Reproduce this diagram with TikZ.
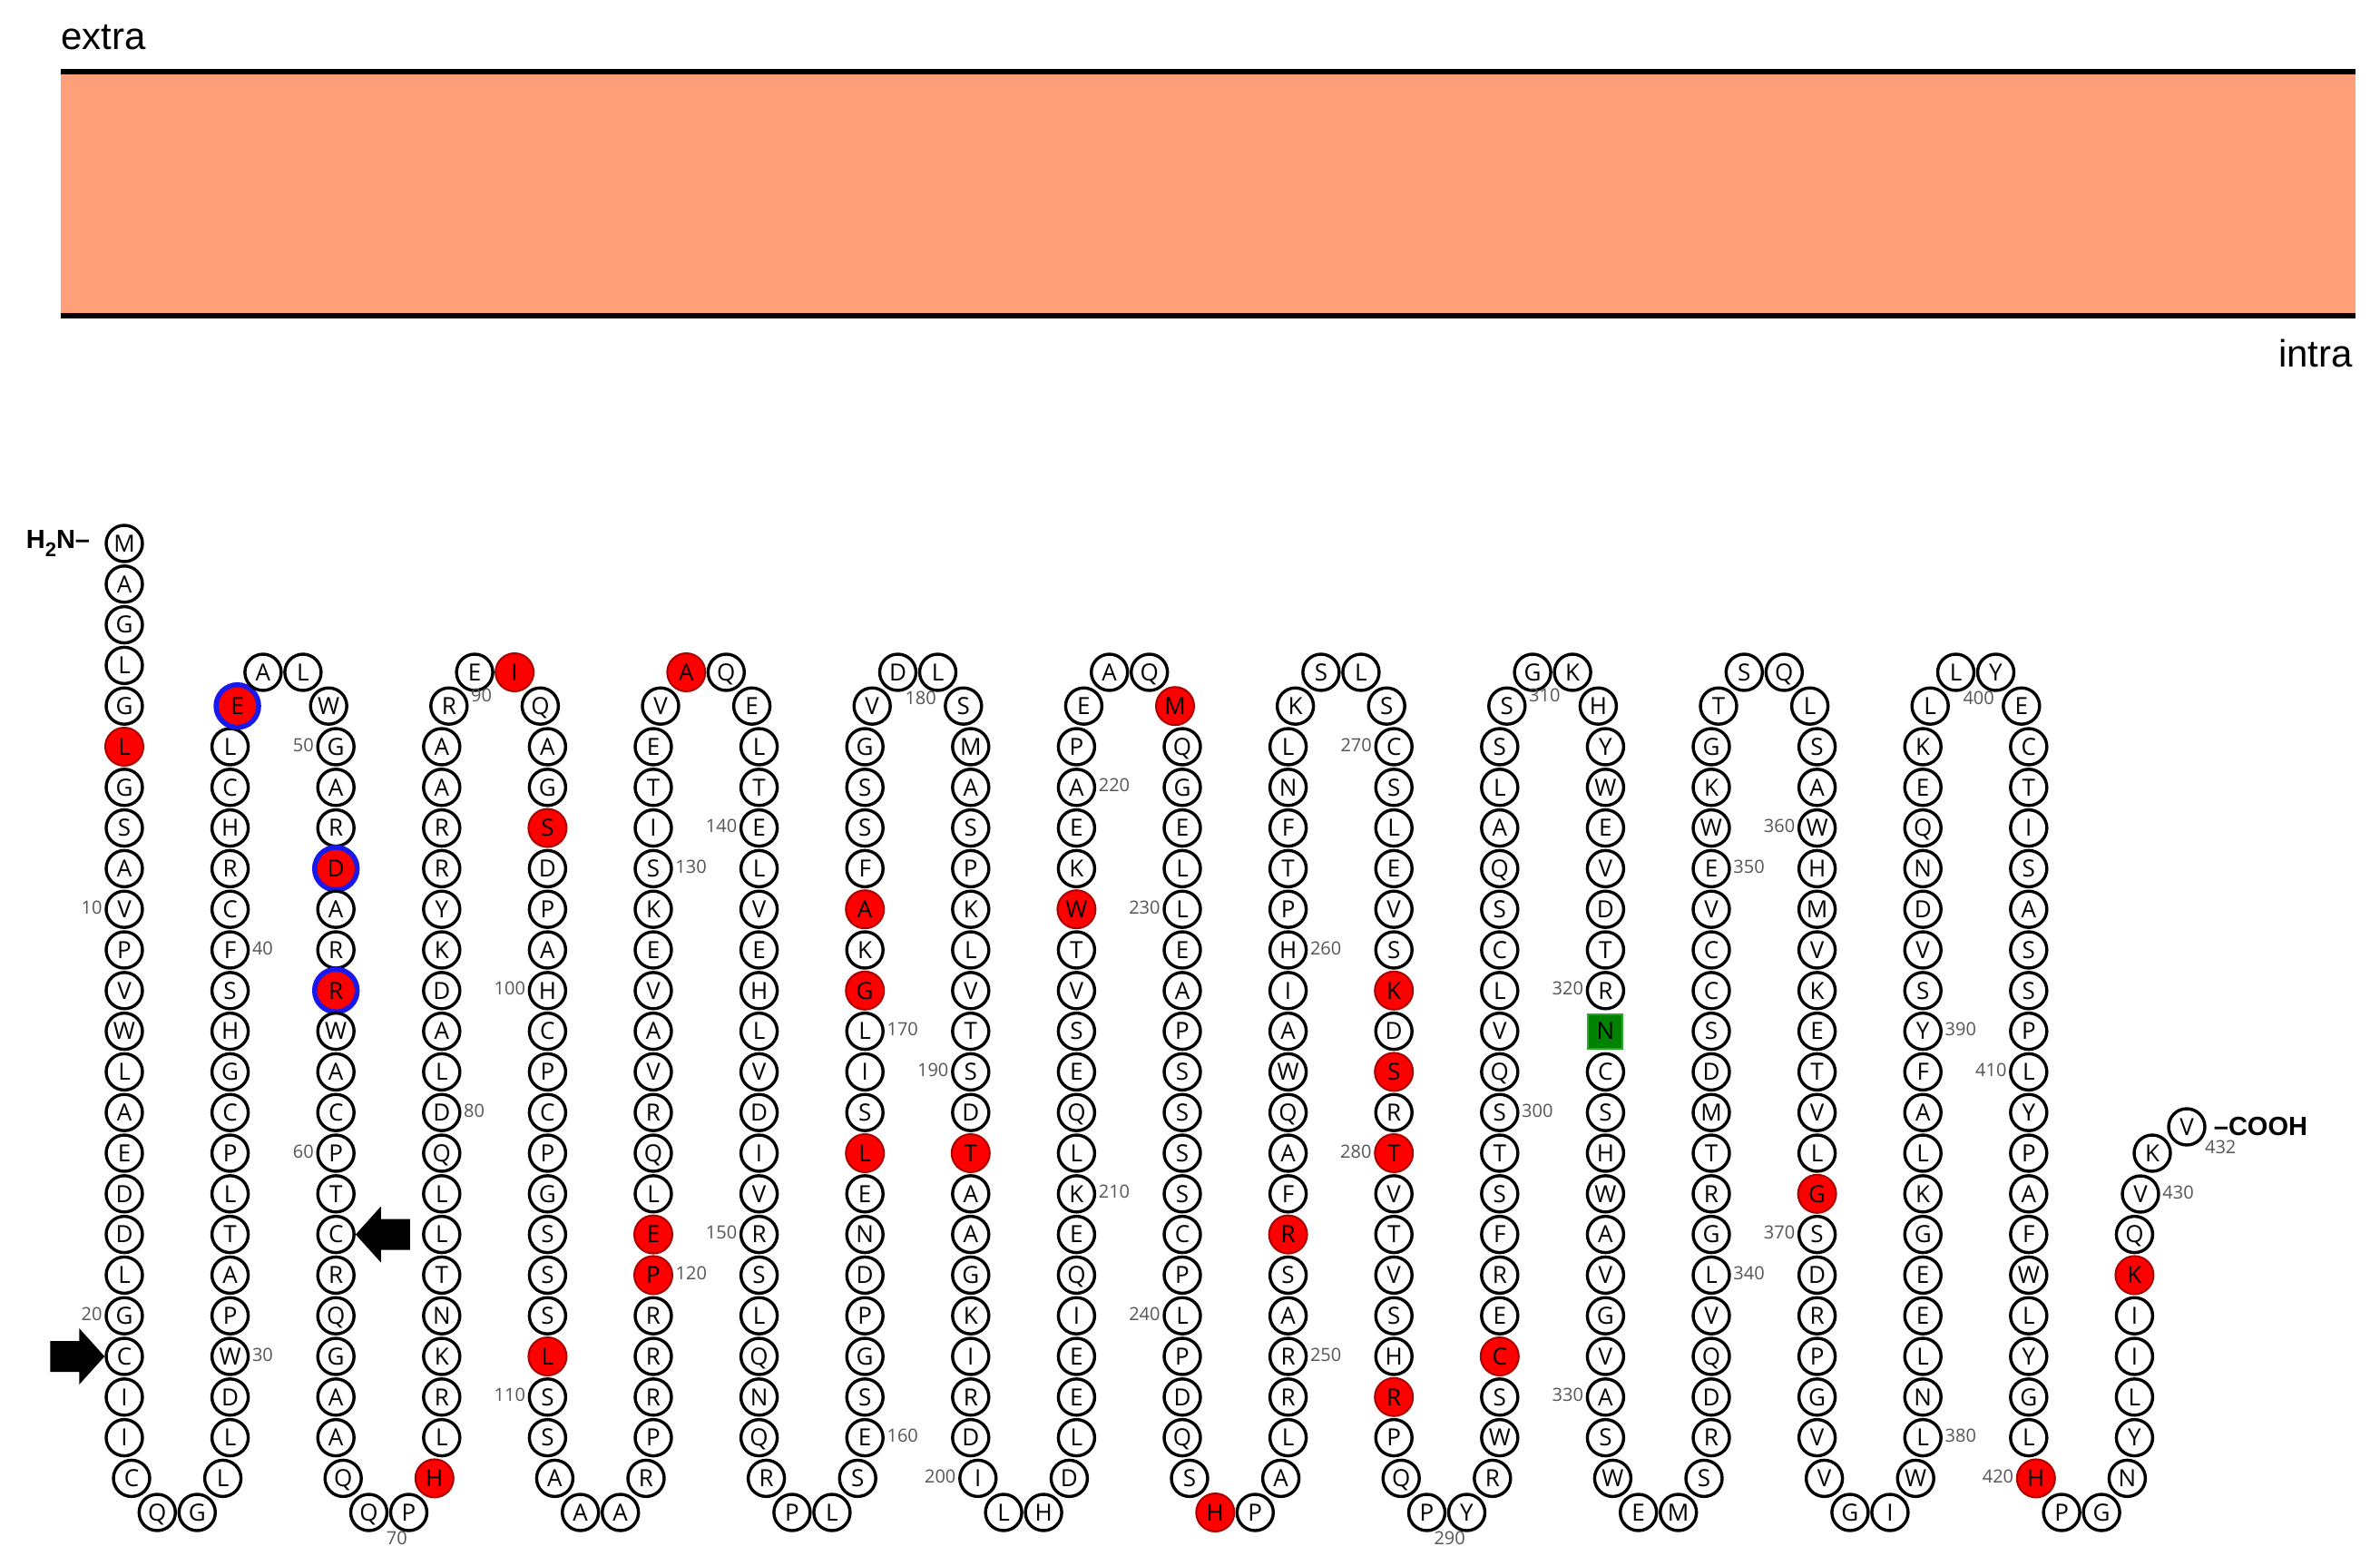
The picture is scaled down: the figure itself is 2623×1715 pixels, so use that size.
\documentclass[tikz,border=0pt]{standalone}
\usepackage{fontspec}
\setmainfont{Open Sans}
\newfontfamily\arialf{Liberation Sans}
\usetikzlibrary{calc}
\definecolor{membr}{RGB}{255,160,122}
\definecolor{numgray}{RGB}{85,85,85}
\newcommand\resfont{\fontsize{26}{26}\selectfont}
\newcommand\numfont{\fontsize{20}{20}\selectfont}
\tikzset{
  res/.style={circle, draw=black, line width=3.4, minimum size=40, inner sep=0, fill=white,
    font=\resfont, text height=18.5, text depth=0},
  resred/.style={res, fill={rgb,255:red,255;green,0;blue,0}, draw={rgb,255:red,170;green,0;blue,0}, line width=2, minimum size=42},
  resblue/.style={res, fill={rgb,255:red,255;green,0;blue,0}, draw={rgb,255:red,25;green,25;blue,235}, line width=5.5, minimum size=47},
  resgreen/.style={rectangle, draw={rgb,255:red,40;green,170;blue,40}, fill={rgb,255:red,0;green,130;blue,0}, line width=2, minimum size=38, inner sep=0,
    font=\resfont, text height=18.5, text depth=0},
  numlab/.style={font=\numfont, text=numgray, inner sep=1.5, yshift=2},
  termlab/.style={inner sep=0, font=\arialf\bfseries\fontsize{29}{29}\selectfont},
  blockarrow/.style={fill=black, draw=none},
}
\newcommand\putresnode[5]{\node[#1] (r#2) at (#3,#4) {#5};}
\newcommand\putres[4]{%
  \ifcsname isblue#1\endcsname \def\rst{resblue}%
  \else\ifcsname isred#1\endcsname \def\rst{resred}%
  \else\ifcsname isgreen#1\endcsname \def\rst{resgreen}%
  \else \def\rst{res}\fi\fi\fi
  \expandafter\putresnode\expandafter{\rst}{#1}{#2}{#3}{#4}}
\newcommand\colseg[5]{%
  \foreach \L [count=\k from 0] in {#5}{%
    \pgfmathtruncatemacro\n{#1+\k}%
    \pgfmathsetmacro\xx{137+116.6*(#2-1)}%
    \pgfmathsetmacro\yy{599+44.8*(#3+(#4)*\k)}%
    \putres{\n}{\xx}{\yy}{\L}}}
\newcommand\loopseg[8]{% #1 first num, #2 left col, #3 y side, #4 y mid, #5-#8 letters
  \pgfmathsetmacro\qxl{137+116.6*(#2-1)}%
  \pgfmathtruncatemacro\qna{#1}\pgfmathtruncatemacro\qnb{#1+1}%
  \pgfmathtruncatemacro\qnc{#1+2}\pgfmathtruncatemacro\qnd{#1+3}%
  \pgfmathsetmacro\qxa{\qxl+8}\pgfmathsetmacro\qxb{\qxl+36.3}%
  \pgfmathsetmacro\qxc{\qxl+80.3}\pgfmathsetmacro\qxd{\qxl+108.6}%
  \putres{\qna}{\qxa}{#3}{#5}\putres{\qnb}{\qxb}{#4}{#6}%
  \putres{\qnc}{\qxc}{#4}{#7}\putres{\qnd}{\qxd}{#3}{#8}}
\newcommand\toploop[6]{\loopseg{#1}{#2}{778.2}{741}{#3}{#4}{#5}{#6}}
\newcommand\botloop[6]{\loopseg{#1}{#2}{1629.4}{1667}{#3}{#4}{#5}{#6}}
\newcommand\numL[1]{\node[numlab, anchor=east] (n#1) at ([xshift=-1]r#1.west) {#1};}
\newcommand\numR[1]{\node[numlab, anchor=west] (n#1) at ([xshift=1]r#1.east) {#1};}
\begin{document}
\begin{tikzpicture}[x=1pt, y=-1pt]
\useasboundingbox (0,0) rectangle (2623,1715);
\fill[white] (0,0) rectangle (2623,1715);
% markers
\foreach \i in {6,71,92,96,109,120,121,135,167,171,173,192,217,225,245,253,276,278,280,286,294,369,420,428}{\expandafter\xdef\csname isred\i\endcsname{1}}
\foreach \i in {46,53,56}{\expandafter\xdef\csname isblue\i\endcsname{1}}
\expandafter\xdef\csname isgreen321\endcsname{1}
% membrane
\fill[membr] (67,79) rectangle (2596,348);
\draw[line width=6] (67,79) -- (2596,79);
\draw[line width=6] (67,348) -- (2596,348);
\node[anchor=base west, inner sep=0, font=\arialf\fontsize{42}{42}\selectfont] (extra) at (67,55) {extra};
\node[anchor=base east, inner sep=0, font=\arialf\fontsize{42}{42}\selectfont] (intra) at (2593,404) {intra};
% residues
\colseg{1}{1}{0}{1}{M,A,G,L,G,L,G,S,A,V,P,V,W,L,A,E,D,D,L,G,C,I,I}
\botloop{24}{1}{C}{Q}{G}{L}
\colseg{28}{2}{22}{-1}{L,D,W,P,A,T,L,P,C,G,H,S,F,C,R,H,C,L}
\toploop{46}{2}{E}{A}{L}{W}
\colseg{50}{3}{5}{1}{G,A,R,D,A,R,R,W,A,C,P,T,C,R,Q,G,A,A}
\botloop{68}{3}{Q}{Q}{P}{H}
\colseg{72}{4}{22}{-1}{L,R,K,N,T,L,L,Q,D,L,A,D,K,Y,R,R,A,A}
\toploop{90}{4}{R}{E}{I}{Q}
\colseg{94}{5}{5}{1}{A,G,S,D,P,A,H,C,P,C,P,G,S,S,S,L,S,S}
\botloop{112}{5}{A}{A}{A}{R}
\colseg{116}{6}{22}{-1}{P,R,R,R,P,E,L,Q,R,V,A,V,E,K,S,I,T,E}
\toploop{134}{6}{V}{A}{Q}{E}
\colseg{138}{7}{5}{1}{L,T,E,L,V,E,H,L,V,D,I,V,R,S,L,Q,N,Q}
\botloop{156}{7}{R}{P}{L}{S}
\colseg{160}{8}{22}{-1}{E,S,G,P,D,N,E,L,S,I,L,G,K,A,F,S,S,G}
\toploop{178}{8}{V}{D}{L}{S}
\colseg{182}{9}{5}{1}{M,A,S,P,K,L,V,T,S,D,T,A,A,G,K,I,R,D}
\botloop{200}{9}{I}{L}{H}{D}
\colseg{204}{10}{22}{-1}{L,E,E,I,Q,E,K,L,Q,E,S,V,T,W,K,E,A,P}
\toploop{222}{10}{E}{A}{Q}{M}
\colseg{226}{11}{5}{1}{Q,G,E,L,L,E,A,P,S,S,S,S,C,P,L,P,D,Q}
\botloop{244}{11}{S}{H}{P}{A}
\colseg{248}{12}{22}{-1}{L,R,R,A,S,R,F,A,Q,W,A,I,H,P,T,F,N,L}
\toploop{266}{12}{K}{S}{L}{S}
\colseg{270}{13}{5}{1}{C,S,L,E,V,S,K,D,S,R,T,V,T,V,S,H,R,P}
\botloop{288}{13}{Q}{P}{Y}{R}
\colseg{292}{14}{22}{-1}{W,S,C,E,R,F,S,T,S,Q,V,L,C,S,Q,A,L,S}
\toploop{310}{14}{S}{G}{K}{H}
\colseg{314}{15}{5}{1}{Y,W,E,V,D,T,R,N,C,S,H,W,A,V,G,V,A,S}
\botloop{332}{15}{W}{E}{M}{S}
\colseg{336}{16}{22}{-1}{R,D,Q,V,L,G,R,T,M,D,S,C,C,V,E,W,K,G}
\toploop{354}{16}{T}{S}{Q}{L}
\colseg{358}{17}{5}{1}{S,A,W,H,M,V,K,E,T,V,L,G,S,D,R,P,G,V}
\botloop{376}{17}{V}{G}{I}{W}
\colseg{380}{18}{22}{-1}{L,N,L,E,E,G,K,L,A,F,Y,S,V,D,N,Q,E,K}
\toploop{398}{18}{L}{L}{Y}{E}
\colseg{402}{19}{5}{1}{C,T,I,S,A,S,S,P,L,Y,P,A,F,W,L,Y,G,L}
\botloop{420}{19}{H}{P}{G}{N}
\colseg{424}{20}{22}{-1}{Y,L,I,I,K,Q}
\putres{430}{2359}{1316}{V}
\putres{431}{2372}{1271}{K}
\putres{432}{2410}{1242}{V}
% termini
\node[termlab, anchor=east] (nterm) at ([xshift=-16]r1.west) {H\raisebox{-0.28em}{\fontsize{22}{22}\selectfont 2}N–};
\node[termlab, anchor=west] (cterm) at ([xshift=8]r432.east) {–COOH};
% numbering
\numL{10}\numL{20}\numR{30}\numR{40}\numL{50}\numL{60}
\node[numlab, anchor=north east] (n70) at (r70.south) {70};
\numR{80}
\node[numlab, anchor=west, yshift=10] (n90) at ([xshift=1]r90.east) {90};
\numL{100}\numL{110}\numR{120}\numR{130}\numL{140}\numL{150}\numR{160}\numR{170}
\node[numlab, anchor=north east] (n180) at (r180.south) {180};
\numL{190}\numL{200}\numR{210}\numR{220}\numL{230}\numL{240}\numR{250}\numR{260}\numL{270}\numL{280}
\node[numlab, anchor=north east] (n290) at (r290.south) {290};
\numR{300}
\node[numlab, anchor=west, yshift=10] (n310) at ([xshift=1]r310.east) {310};
\numL{320}\numL{330}\numR{340}\numR{350}\numL{360}\numL{370}\numR{380}\numR{390}
\node[numlab, anchor=north east] (n400) at (r400.south) {400};
\numL{410}\numL{420}\numR{430}
\node[numlab, anchor=north west] (n432) at ([xshift=3]r432.south east) {432};
% block arrows
\fill[blockarrow] (r21.west) -- ++(-28,-31) -- ++(0,14) -- ++(-32,0) -- ++(0,34) -- ++(32,0) -- ++(0,14) -- cycle;
\fill[blockarrow] (r62.east) -- ++(28,-31) -- ++(0,14) -- ++(32,0) -- ++(0,34) -- ++(-32,0) -- ++(0,14) -- cycle;
\end{tikzpicture}
\end{document}
